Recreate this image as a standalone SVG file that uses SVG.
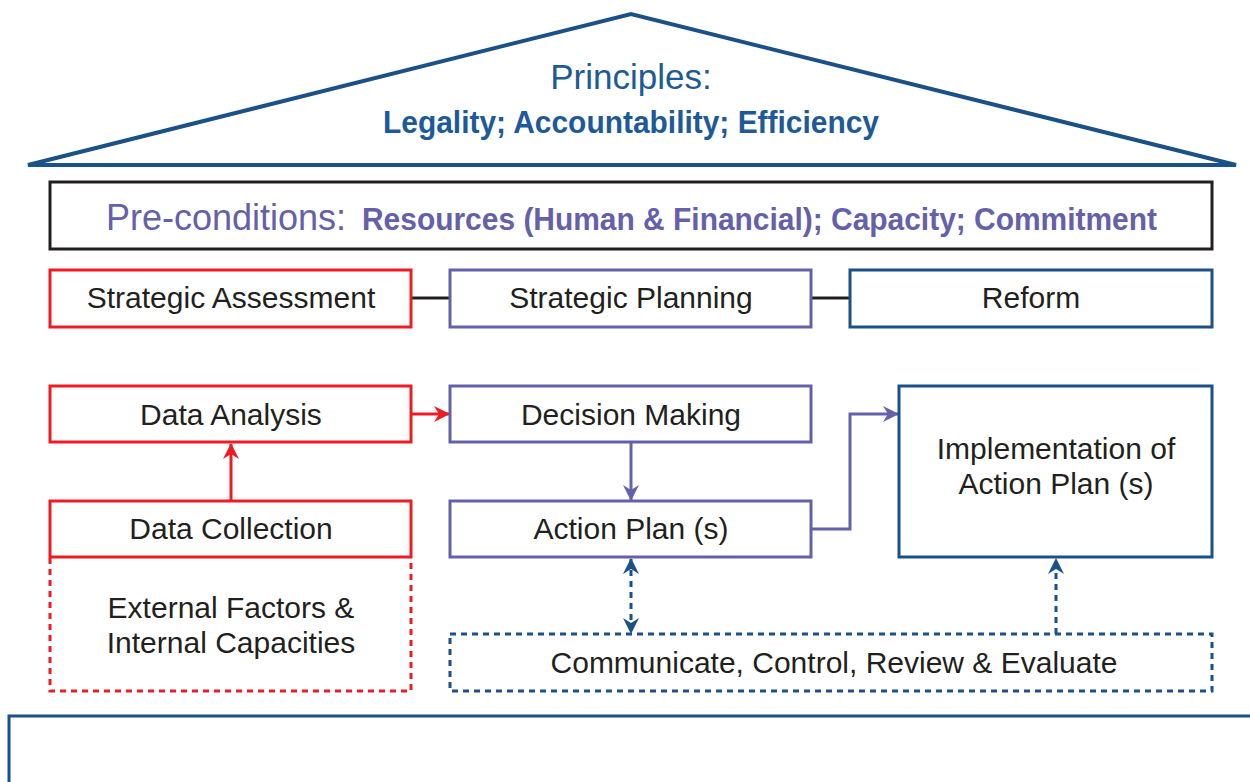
<svg xmlns="http://www.w3.org/2000/svg" width="1250" height="782" viewBox="0 0 1250 782">
<style>
.box{fill:#fff;stroke-width:3}
.red{stroke:#ed1c24}
.pur{stroke:#6461ab}
.blu{stroke:#1b5189}
.lbl{font-family:"Liberation Sans",Arial,sans-serif;font-size:30px;fill:#231f20;text-anchor:middle}
.con{fill:none;stroke-width:3}
.dash{stroke-dasharray:6 5}
</style>
<defs>
<marker id="ar" viewBox="0 0 16 16" markerWidth="16" markerHeight="16" refX="15" refY="8" orient="auto-start-reverse" markerUnits="userSpaceOnUse"><path d="M0,0 L16,8 L0,16 L5,8 z" fill="#ed1c24"/></marker>
<marker id="ap" viewBox="0 0 16 16" markerWidth="16" markerHeight="16" refX="15" refY="8" orient="auto-start-reverse" markerUnits="userSpaceOnUse"><path d="M0,0 L16,8 L0,16 L5,8 z" fill="#6461ab"/></marker>
<marker id="ab" viewBox="0 0 16 16" markerWidth="16" markerHeight="16" refX="15" refY="8" orient="auto-start-reverse" markerUnits="userSpaceOnUse"><path d="M0,0 L16,8 L0,16 L5,8 z" fill="#1b5189"/></marker>
</defs>
<rect width="1250" height="782" fill="#fff"/>
<g id="principles">
<polygon points="28,165 631,14 1236,165" fill="#fff" stroke="#1b5189" stroke-width="4"/>
<text x="631" y="89" font-family="'Liberation Sans',Arial,sans-serif" font-size="35" fill="#1d5a97" text-anchor="middle">Principles:</text>
<text x="383" y="133" font-family="'Liberation Sans',Arial,sans-serif" font-size="32" font-weight="bold" fill="#1d5a97" textLength="496" lengthAdjust="spacingAndGlyphs">Legality; Accountability; Efficiency</text>
</g>
<g id="preconditions">
<rect x="50" y="182" width="1162" height="67" fill="#fff" stroke="#231f20" stroke-width="3"/>
<text x="106" y="230" font-family="'Liberation Sans',Arial,sans-serif" font-size="36" fill="#6460aa">Pre-conditions:</text>
<text x="362" y="230" font-family="'Liberation Sans',Arial,sans-serif" font-size="32" font-weight="bold" fill="#6460aa" textLength="795" lengthAdjust="spacingAndGlyphs">Resources (Human &amp; Financial); Capacity; Commitment</text>
</g>
<g id="connectors">
<line x1="411" y1="298" x2="450" y2="298" stroke="#231f20" stroke-width="3"/>
<line x1="811" y1="298" x2="850" y2="298" stroke="#231f20" stroke-width="3"/>
<line class="con red" x1="411" y1="414" x2="449" y2="414" marker-end="url(#ar)"/>
<line class="con red" x1="231" y1="501" x2="231" y2="444" marker-end="url(#ar)"/>
<line class="con pur" x1="631" y1="442" x2="631" y2="500" marker-end="url(#ap)"/>
<path class="con pur" d="M811,529 H850 V414 H898" marker-end="url(#ap)"/>
<line class="con blu dash" x1="631" y1="559" x2="631" y2="633" marker-start="url(#ab)" marker-end="url(#ab)"/>
<line class="con blu dash" x1="1056" y1="634" x2="1056" y2="559" marker-end="url(#ab)"/>
</g>
<g id="strategic-assessment">
<rect class="box red" x="50" y="270" width="361" height="57"/>
<text class="lbl" x="231" y="308">Strategic Assessment</text>
</g>
<g id="strategic-planning">
<rect class="box pur" x="450" y="270" width="361" height="57"/>
<text class="lbl" x="631" y="308">Strategic Planning</text>
</g>
<g id="reform">
<rect class="box blu" x="850" y="270" width="362" height="57"/>
<text class="lbl" x="1031" y="308">Reform</text>
</g>
<g id="data-analysis">
<rect class="box red" x="50" y="386" width="361" height="56"/>
<text class="lbl" x="231" y="425">Data Analysis</text>
</g>
<g id="decision-making">
<rect class="box pur" x="450" y="386" width="361" height="56"/>
<text class="lbl" x="631" y="425">Decision Making</text>
</g>
<g id="implementation">
<rect class="box blu" x="899" y="386" width="313" height="171"/>
<text class="lbl" x="1056" y="459">Implementation of</text>
<text class="lbl" x="1056" y="494">Action Plan (s)</text>
</g>
<g id="data-collection">
<rect class="box red" x="50" y="501" width="361" height="56"/>
<text class="lbl" x="231" y="539">Data Collection</text>
</g>
<g id="action-plan">
<rect class="box pur" x="450" y="501" width="361" height="56"/>
<text class="lbl" x="631" y="539">Action Plan (s)</text>
</g>
<g id="external-factors">
<path d="M50,558 V691 H411 V558" fill="none" stroke="#ed1c24" stroke-width="3" stroke-dasharray="6 5"/>
<text class="lbl" x="231" y="618">External Factors &amp;</text>
<text class="lbl" x="231" y="653">Internal Capacities</text>
</g>
<g id="communicate">
<rect x="450" y="634" width="762" height="57" fill="none" stroke="#1b5189" stroke-width="3" stroke-dasharray="6 5"/>
<text class="lbl" x="834" y="673">Communicate, Control, Review &amp; Evaluate</text>
</g>
<g id="base">
<rect x="9" y="716" width="1300" height="200" fill="#fff" stroke="#1b5189" stroke-width="3"/>
</g>
</svg>
